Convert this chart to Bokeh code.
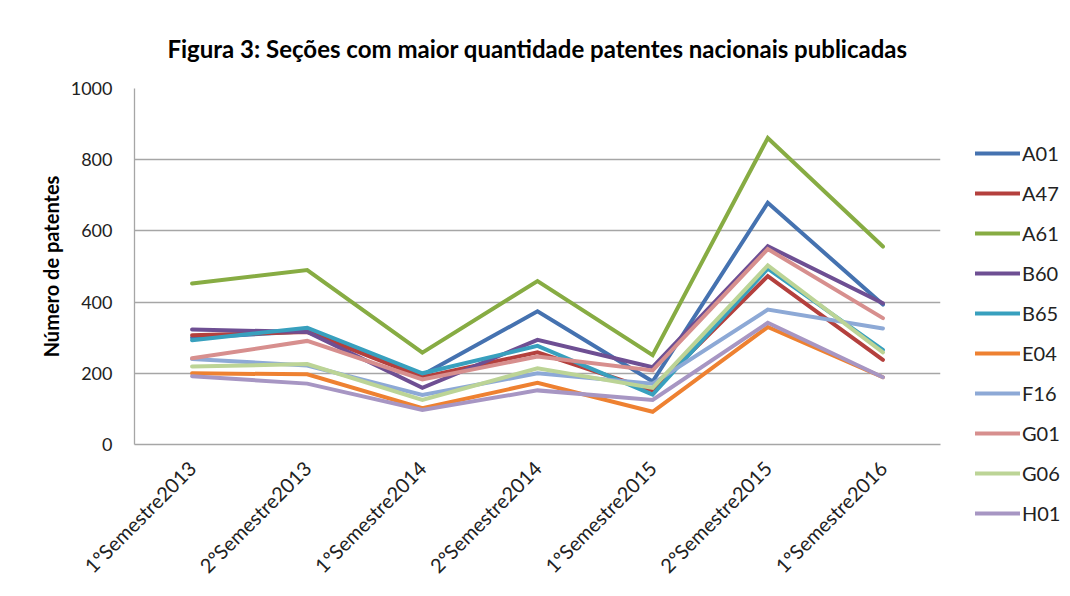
from bokeh.plotting import figure
from bokeh.models import Legend, LegendItem, FactorRange, Range1d, SingleIntervalTicker
from bokeh.layouts import row, column
from bokeh.embed import file_html
from bokeh.resources import INLINE
import math

periods = ["1ºSemestre2013", "2ºSemestre2013", "1ºSemestre2014", "2ºSemestre2014",
           "1ºSemestre2015", "2ºSemestre2015", "1ºSemestre2016"]

A01 = [300, 318, 195, 374, 177, 679, 393]
A47 = [307, 316, 189, 259, 152, 473, 238]
A61 = [452, 490, 258, 459, 251, 861, 556]
B60 = [323, 316, 159, 294, 217, 557, 397]
B65 = [293, 328, 200, 277, 140, 494, 266]
E04 = [200, 197, 102, 173, 92, 330, 189]
F16 = [240, 222, 139, 200, 171, 379, 326]
G01 = [242, 291, 183, 247, 208, 549, 355]
G06 = [219, 226, 125, 214, 159, 503, 259]
H01 = [192, 171, 97, 152, 125, 342, 189]

series_names = ["A01", "A47", "A61", "B60", "B65", "E04", "F16", "G01", "G06", "H01"]
series_values = [A01, A47, A61, B60, B65, E04, F16, G01, G06, H01]
colors = ["#4572B0", "#B4403D", "#87AC43", "#6E4F93", "#38A0BE", "#EE8131",
          "#8DA9D6", "#D78F8E", "#BCD496", "#A796C3"]

FONT = "Lato"
H = 588
W_MAIN = 975

p = figure(width=W_MAIN, height=H, x_range=FactorRange(*periods), y_range=Range1d(0, 1000),
           output_backend="svg", toolbar_location=None,
           min_border_left=134, min_border_right=35, min_border_top=88, min_border_bottom=138)

p.title.text = "Figura 3: Seções com maior quantidade patentes nacionais publicadas"
p.title.align = "center"
p.title.text_font = FONT
p.title.text_font_style = "bold"
p.title.text_font_size = "24px"
p.title.text_color = "#000000"
p.title.standoff = 52

p.outline_line_color = None
p.background_fill_color = "white"
p.border_fill_color = "white"

p.xgrid.grid_line_color = None
p.ygrid.grid_line_color = "#A6A6A6"
p.ygrid.grid_line_width = 1.3

p.yaxis.ticker = SingleIntervalTicker(interval=200)
p.yaxis.axis_line_color = "#A6A6A6"
p.yaxis.axis_line_width = 1.3
p.yaxis.major_tick_line_color = None
p.yaxis.minor_tick_line_color = None
p.yaxis.major_label_text_font = FONT
p.yaxis.major_label_text_font_size = "18px"
p.yaxis.major_label_text_color = "#222222"
p.yaxis.major_label_standoff = 16
p.yaxis.axis_label = "Número de patentes"
p.yaxis.axis_label_text_font = FONT
p.yaxis.axis_label_text_font_style = "bold"
p.yaxis.axis_label_text_font_size = "20px"
p.yaxis.axis_label_text_color = "#000000"
p.yaxis.axis_label_standoff = 5

p.xaxis.axis_line_color = "#A6A6A6"
p.xaxis.axis_line_width = 1.3
p.xaxis.major_tick_line_color = None
p.xaxis.minor_tick_line_color = None
p.xaxis.major_label_orientation = math.pi / 4
p.xaxis.major_label_text_font = FONT
p.xaxis.major_label_text_font_size = "20px"
p.xaxis.major_label_text_color = "#222222"
p.xaxis.major_label_standoff = 14

# legend panel as a separate narrow figure; legend sits in its left side panel
pl = figure(width=1062 - W_MAIN, height=H, x_range=FactorRange(*periods), y_range=Range1d(2000, 3000),
            output_backend="svg", toolbar_location=None, x_axis_type=None, y_axis_type=None,
            min_border_left=0, min_border_right=0, min_border_top=141, min_border_bottom=0)
pl.outline_line_color = None
pl.xgrid.grid_line_color = None
pl.ygrid.grid_line_color = None

items = []
for name, vals, c in zip(series_names, series_values, colors):
    p.line(periods, vals, line_color=c, line_width=4, line_join="miter", line_cap="round")
    r2 = pl.line(periods, vals, line_color=c, line_width=4, line_cap="round")
    items.append(LegendItem(label=name, renderers=[r2]))

legend = Legend(items=items, location="top_left", orientation="vertical",
                glyph_width=45, glyph_height=24, label_height=24, spacing=16,
                padding=0, margin=0, label_standoff=2,
                label_text_font=FONT, label_text_font_size="20px", label_text_color="#222222",
                border_line_color=None, background_fill_alpha=0)
pl.add_layout(legend, "left")

layout = row(p, column(pl))
open("out.html", "w").write(file_html(layout, INLINE))
